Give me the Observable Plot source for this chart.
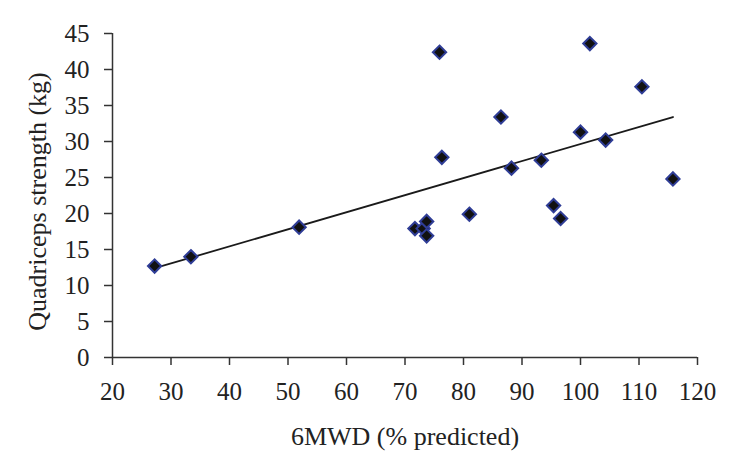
<!DOCTYPE html>
<html>
<head>
<meta charset="utf-8">
<script src="https://cdn.jsdelivr.net/npm/d3@7"></script>
<script src="https://cdn.jsdelivr.net/npm/@observablehq/plot@0.6"></script>
<style>
  html, body { margin: 0; padding: 0; background: #fff; }
  svg, svg text { font-family: "Liberation Serif", "Times New Roman", serif; }
</style>
</head>
<body>
<div id="chart"></div>
<script>
// 6MWD (% predicted)
const walkPct = [27.2, 33.4, 51.9, 71.7, 73.1, 73.7, 73.7, 81.0, 95.4, 96.6,
                 75.9, 101.6, 110.5, 86.4, 76.3, 100.0, 104.3, 93.3, 88.2, 115.8];
// Quadriceps strength (kg)
const quadKg = [12.7, 14.0, 18.1, 17.9, 17.9, 18.9, 16.9, 19.9, 21.1, 19.3,
                42.4, 43.6, 37.6, 33.4, 27.8, 31.3, 30.2, 27.4, 26.3, 24.8];
// trend line endpoints
const trendX = [27.2, 115.8];
const trendY = [12.4, 33.4];
const xTicks = [20, 30, 40, 50, 60, 70, 80, 90, 100, 110, 120];
const yTicks = [0, 5, 10, 15, 20, 25, 30, 35, 40, 45];
const xLabel = "6MWD (% predicted)";
const yLabel = "Quadriceps strength (kg)";

const points = walkPct.map((x, i) => ({x, y: quadKg[i]}));
const trend = trendX.map((x, i) => ({x, y: trendY[i]}));

const axisColor = "#333";
const textColor = "#222";

const chart = Plot.plot({
  width: 736,
  height: 464,
  marginLeft: 112,
  marginRight: 39,
  marginTop: 33,
  marginBottom: 107,
  style: {fontFamily: "Liberation Serif, Times New Roman, serif", fontSize: "25px", color: textColor, background: "#fff"},
  x: {domain: [20, 120]},
  y: {domain: [0, 45]},
  marks: [
    Plot.axisX({ticks: xTicks, tickSize: 8, tickPadding: 17, stroke: axisColor, strokeWidth: 1.5, label: null, fill: textColor, tickFormat: d => String(d)}),
    Plot.axisY({ticks: yTicks, tickSize: 8, tickPadding: 15, stroke: axisColor, strokeWidth: 1.5, label: null, fill: textColor, tickFormat: d => String(d)}),
    Plot.ruleX([20], {stroke: axisColor, strokeWidth: 1.5}),
    Plot.ruleY([0], {stroke: axisColor, strokeWidth: 1.5}),
    Plot.line(trend, {x: "x", y: "y", stroke: "#1a1a1a", strokeWidth: 1.8}),
    Plot.dot(points, {x: "x", y: "y", symbol: "diamond2", r: 6, fill: "#111", stroke: "#2f3d96", strokeWidth: 2}),
    Plot.text([xLabel], {frameAnchor: "bottom", dy: 79, textAnchor: "middle", lineAnchor: "middle", fill: textColor, fontSize: 26}),
    Plot.text([yLabel], {frameAnchor: "left", dx: -75, dy: 6, rotate: -90, textAnchor: "middle", lineAnchor: "middle", fill: textColor, fontSize: 26})
  ]
});
document.getElementById("chart").appendChild(chart);
</script>
</body>
</html>
